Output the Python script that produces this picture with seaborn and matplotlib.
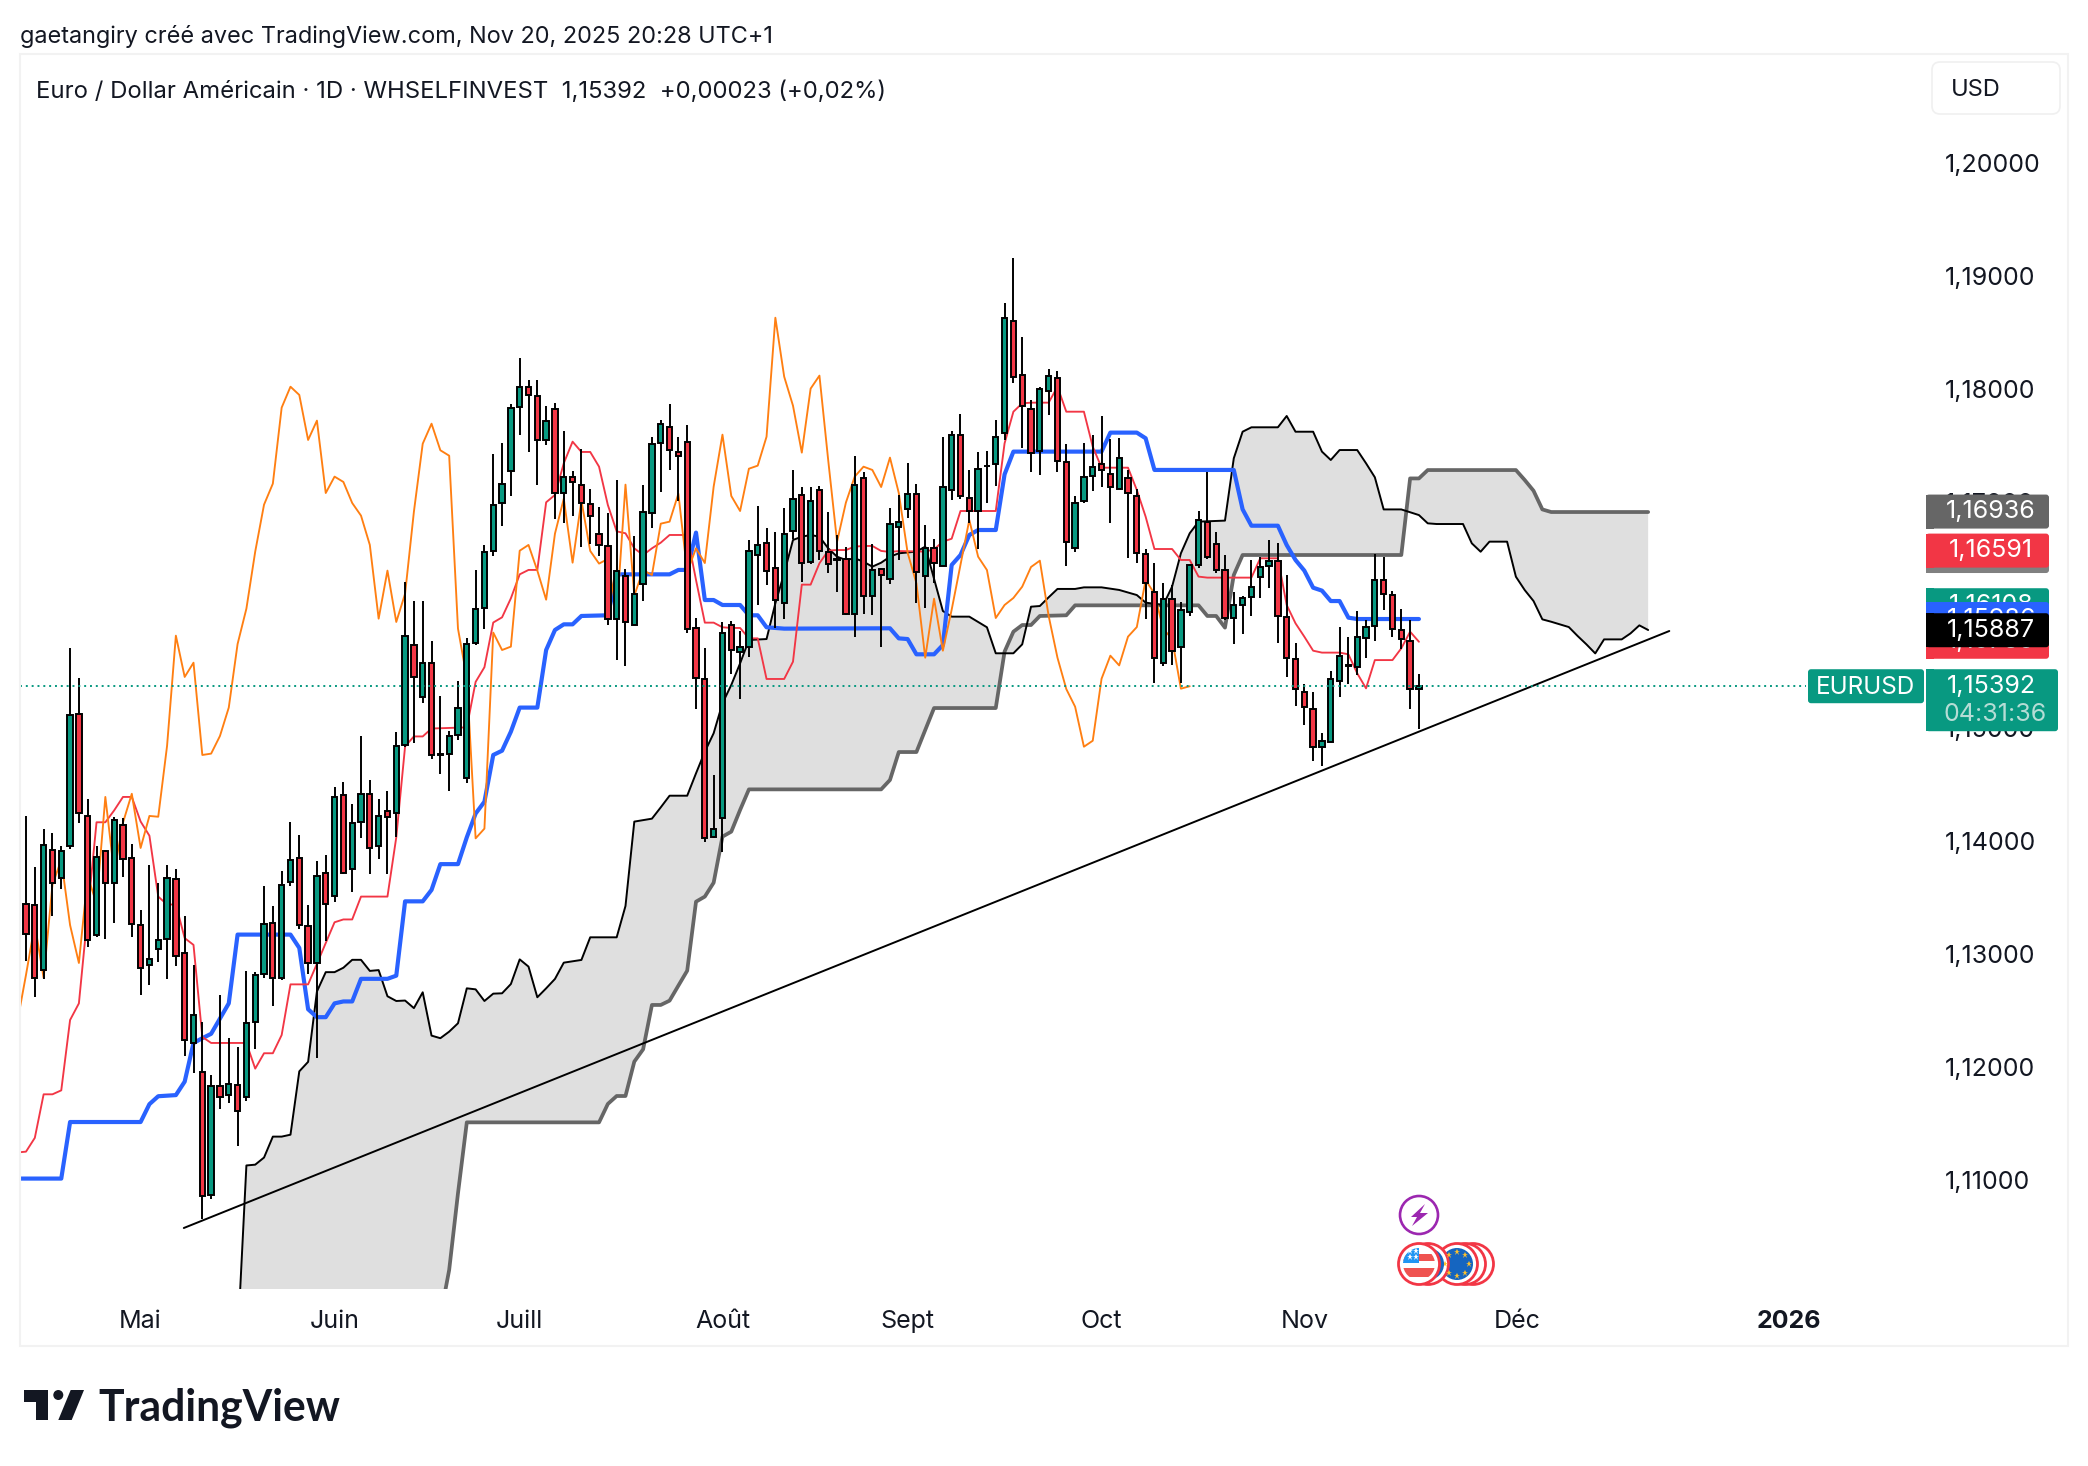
import numpy as np
import matplotlib
matplotlib.use("Agg")
import matplotlib.pyplot as plt
import matplotlib.transforms as mtrans
import seaborn as sns
from matplotlib.patches import Circle, FancyBboxPatch, Polygon, Rectangle

# Daily bars
opens = [
    1.13469, 1.13459, 1.12882, 1.13945, 1.13696, 1.13976, 1.15147, 1.14245, 1.13189, 1.13938,
    1.13651, 1.14165, 1.13875, 1.13284, 1.12927, 1.13067, 1.13158, 1.13689, 1.13036, 1.12238,
    1.11983, 1.10893, 1.11857, 1.11781, 1.11868, 1.11763, 1.12424, 1.12850, 1.13298, 1.12808,
    1.13661, 1.13875, 1.13270, 1.12945, 1.13742, 1.13539, 1.14427, 1.13773, 1.14193, 1.14441,
    1.13979, 1.14291, 1.14273, 1.14869, 1.15759, 1.15297, 1.15597, 1.14784, 1.14793, 1.14961,
    1.14581, 1.15777, 1.16084, 1.16588, 1.17012, 1.17295, 1.17861, 1.18040, 1.17961, 1.17566,
    1.17846, 1.17100, 1.17245, 1.17174, 1.17006, 1.16741, 1.16635, 1.15989, 1.16369, 1.15933,
    1.16296, 1.16926, 1.17545, 1.17687, 1.17463, 1.17554, 1.15907, 1.15456, 1.14062, 1.14230,
    1.15930, 1.15698, 1.15742, 1.16549, 1.16661, 1.16437, 1.16131, 1.16767, 1.17086, 1.16493,
    1.17127, 1.16579, 1.16508, 1.16517, 1.16031, 1.17236, 1.16193, 1.16428, 1.16340, 1.16800,
    1.16959, 1.17094, 1.16366, 1.16614, 1.16458, 1.17127, 1.17616, 1.17059, 1.16941, 1.17336,
    1.17360, 1.17631, 1.18624, 1.18143, 1.17846, 1.17472, 1.18002, 1.18117, 1.17377, 1.16617,
    1.17030, 1.17251, 1.17357, 1.17271, 1.17139, 1.17233, 1.17077, 1.16564, 1.16228, 1.15594,
    1.16166, 1.15742, 1.16051, 1.16467, 1.16844, 1.16649, 1.16419, 1.15998, 1.16113, 1.16184,
    1.16361, 1.16458, 1.16502, 1.16007, 1.15636, 1.15341, 1.15194, 1.14857, 1.14901, 1.15438,
    1.15570, 1.15559, 1.15821, 1.15924, 1.16331, 1.16198, 1.15889, 1.15794, 1.15369,
]
highs = [
    1.14242, 1.13791, 1.14126, 1.14091, 1.13976, 1.15727, 1.15469, 1.14399, 1.13976, 1.13941,
    1.14238, 1.14224, 1.13993, 1.13410, 1.13808, 1.13651, 1.13808, 1.13780, 1.13364, 1.12931,
    1.12427, 1.11952, 1.12658, 1.12280, 1.12204, 1.12878, 1.12861, 1.13630, 1.13445, 1.13756,
    1.14189, 1.14074, 1.13455, 1.13847, 1.13896, 1.14497, 1.14542, 1.14347, 1.14948, 1.14567,
    1.14392, 1.14469, 1.14990, 1.16311, 1.16143, 1.16143, 1.15795, 1.15303, 1.14999, 1.15435,
    1.15815, 1.16417, 1.16644, 1.17442, 1.17539, 1.17884, 1.18291, 1.18099, 1.18099, 1.17867,
    1.17893, 1.17646, 1.17292, 1.17486, 1.17133, 1.16974, 1.16921, 1.17212, 1.16425, 1.16717,
    1.17168, 1.17598, 1.17743, 1.17884, 1.17598, 1.17699, 1.15992, 1.15727, 1.14607, 1.15963,
    1.15966, 1.15880, 1.16682, 1.16982, 1.16788, 1.16753, 1.16968, 1.17301, 1.17150, 1.17150,
    1.17159, 1.16929, 1.16729, 1.16620, 1.17425, 1.17283, 1.16646, 1.16440, 1.16965, 1.17080,
    1.17363, 1.17177, 1.16814, 1.16694, 1.17592, 1.17645, 1.17796, 1.17301, 1.17463, 1.17472,
    1.17743, 1.18777, 1.19175, 1.18476, 1.17919, 1.18037, 1.18194, 1.18182, 1.17530, 1.17071,
    1.17539, 1.17610, 1.17778, 1.17578, 1.17584, 1.17304, 1.17139, 1.16608, 1.16481, 1.16302,
    1.16290, 1.16140, 1.16470, 1.16938, 1.17289, 1.16753, 1.16552, 1.16222, 1.16190, 1.16508,
    1.16537, 1.16685, 1.16655, 1.16372, 1.15771, 1.15409, 1.15338, 1.14975, 1.15523, 1.15912,
    1.15824, 1.16054, 1.15974, 1.16560, 1.16531, 1.16236, 1.16071, 1.15977, 1.15500,
]
lows = [
    1.12966, 1.12648, 1.12805, 1.13364, 1.13602, 1.13952, 1.14186, 1.13084, 1.13172, 1.13158,
    1.13298, 1.13707, 1.13175, 1.12665, 1.12752, 1.12955, 1.12805, 1.12920, 1.12127, 1.11976,
    1.10683, 1.10858, 1.11658, 1.11707, 1.11323, 1.11728, 1.12186, 1.12815, 1.12567, 1.12798,
    1.13630, 1.13242, 1.12850, 1.12109, 1.13137, 1.13480, 1.13735, 1.13577, 1.14049, 1.13728,
    1.13868, 1.13735, 1.14063, 1.14858, 1.14893, 1.15247, 1.14752, 1.14619, 1.14469, 1.14920,
    1.14539, 1.15754, 1.15901, 1.16546, 1.16809, 1.17077, 1.17616, 1.17466, 1.17174, 1.17528,
    1.16873, 1.16832, 1.16900, 1.16626, 1.16649, 1.16546, 1.15936, 1.15627, 1.15574, 1.15933,
    1.16148, 1.16794, 1.17112, 1.17307, 1.17033, 1.15860, 1.15194, 1.14018, 1.14047, 1.13923,
    1.15503, 1.15282, 1.15647, 1.16110, 1.16287, 1.15904, 1.15989, 1.16694, 1.16316, 1.16473,
    1.16508, 1.16396, 1.16228, 1.16019, 1.15830, 1.16031, 1.16022, 1.15742, 1.16293, 1.16508,
    1.16876, 1.16131, 1.16087, 1.16307, 1.16458, 1.17038, 1.17044, 1.16832, 1.16605, 1.17015,
    1.17162, 1.17569, 1.18076, 1.17501, 1.17289, 1.17259, 1.17793, 1.17283, 1.16458, 1.16582,
    1.17015, 1.17121, 1.17156, 1.16832, 1.17133, 1.16523, 1.16478, 1.15989, 1.15423, 1.15574,
    1.15583, 1.15423, 1.16016, 1.16434, 1.16514, 1.16390, 1.15977, 1.15768, 1.15857, 1.16016,
    1.16175, 1.16263, 1.15777, 1.15476, 1.15217, 1.15052, 1.14733, 1.14689, 1.14901, 1.15299,
    1.15411, 1.15491, 1.15638, 1.15794, 1.16065, 1.15824, 1.15718, 1.15187, 1.15010,
]
closes = [
    1.13200, 1.12808, 1.13986, 1.13654, 1.13938, 1.15140, 1.14273, 1.13147, 1.13882, 1.13651,
    1.14210, 1.13864, 1.13287, 1.12903, 1.12983, 1.13151, 1.13696, 1.13008, 1.12266, 1.12487,
    1.10882, 1.11857, 1.11763, 1.11875, 1.11637, 1.12417, 1.12840, 1.13287, 1.12812, 1.13637,
    1.13857, 1.13280, 1.12945, 1.13714, 1.13469, 1.14413, 1.13742, 1.14186, 1.14441, 1.13962,
    1.14245, 1.14238, 1.14864, 1.15839, 1.15474, 1.15600, 1.14784, 1.14796, 1.14952, 1.15203,
    1.15765, 1.16078, 1.16582, 1.16997, 1.17183, 1.17855, 1.18040, 1.17967, 1.17569, 1.17740,
    1.17100, 1.17245, 1.17198, 1.17012, 1.16900, 1.16641, 1.15989, 1.16414, 1.15960, 1.16210,
    1.16935, 1.17536, 1.17713, 1.17478, 1.17430, 1.15901, 1.15465, 1.14047, 1.14133, 1.15866,
    1.15712, 1.15742, 1.16590, 1.16641, 1.16414, 1.16157, 1.16741, 1.17050, 1.16484, 1.17033,
    1.16588, 1.16476, 1.16517, 1.16031, 1.17174, 1.16193, 1.16419, 1.16375, 1.16829, 1.16847,
    1.17094, 1.16402, 1.16611, 1.16481, 1.17156, 1.17616, 1.17074, 1.16941, 1.17315, 1.17342,
    1.17598, 1.18650, 1.18129, 1.17872, 1.17457, 1.18023, 1.18138, 1.17386, 1.16670, 1.17015,
    1.17245, 1.17333, 1.17304, 1.17153, 1.17413, 1.17100, 1.16573, 1.16302, 1.15644, 1.16166,
    1.15706, 1.16069, 1.16464, 1.16862, 1.16537, 1.16419, 1.15995, 1.16110, 1.16172, 1.16272,
    1.16446, 1.16502, 1.16013, 1.15644, 1.15367, 1.15211, 1.14857, 1.14910, 1.15458, 1.15662,
    1.15576, 1.15830, 1.15915, 1.16331, 1.16210, 1.15897, 1.15812, 1.15370, 1.15392,
]

# Ichimoku lines: bar number and price at each bend
tenkan_bars = [-1, 0, 1, 2, 3, 4, 5, 6, 8, 9, 10, 11, 12, 13, 14, 15, 16, 17, 18, 19, 20, 21, 25, 26, 27, 28, 29, 30,
               32, 33, 35, 36, 37, 38, 41, 42, 43, 44, 45, 46, 50, 51, 52, 53, 54, 55, 56, 57, 58, 59, 60, 61, 62,
               63, 64, 65, 66, 67, 68, 69, 70, 71, 72, 73, 75, 76, 77, 78, 79, 80, 81, 82, 83, 84, 86, 87, 88, 89,
               90, 91, 92, 93, 94, 95, 96, 97, 98, 99, 102, 103, 104, 105, 106, 110, 111, 112, 113, 114, 116, 117,
               118, 120, 121, 122, 125, 126, 127, 128, 130, 131, 132, 133, 134, 139, 140, 142, 143, 144, 145, 146,
               147, 149, 150, 151, 152, 153, 155, 156, 157, 158]
tenkan_vals = [1.11270, 1.11277, 1.11399, 1.11784, 1.11784, 1.11819, 1.12441, 1.12588, 1.14189, 1.14189, 1.14294,
               1.14413, 1.14413, 1.14196, 1.14070, 1.13532, 1.13462, 1.13462, 1.13165, 1.13105, 1.12291, 1.12238,
               1.12238, 1.12011, 1.12147, 1.12147, 1.12308, 1.12756, 1.12756, 1.12938, 1.13305, 1.13330, 1.13330,
               1.13532, 1.13532, 1.14056, 1.14860, 1.14948, 1.14948, 1.15018, 1.15028, 1.15430, 1.15560, 1.15955,
               1.16001, 1.16169, 1.16381, 1.16420, 1.16420, 1.17018, 1.17083, 1.17363, 1.17554, 1.17463, 1.17463,
               1.17333, 1.16994, 1.16761, 1.16744, 1.16611, 1.16552, 1.16611, 1.16661, 1.16729, 1.16729, 1.16331,
               1.15954, 1.15954, 1.15913, 1.15907, 1.15907, 1.15815, 1.15815, 1.15456, 1.15456, 1.15609, 1.16290,
               1.16290, 1.16479, 1.16591, 1.16596, 1.16596, 1.16626, 1.16632, 1.16632, 1.16588, 1.16579, 1.16587,
               1.16582, 1.16602, 1.16670, 1.16696, 1.16941, 1.16941, 1.17539, 1.17819, 1.17893, 1.17899, 1.17899,
               1.18040, 1.17819, 1.17819, 1.17510, 1.17324, 1.17324, 1.17127, 1.16891, 1.16605, 1.16605, 1.16508,
               1.16508, 1.16361, 1.16352, 1.16352, 1.16523, 1.16523, 1.16110, 1.15948, 1.15830, 1.15706, 1.15689,
               1.15689, 1.15674, 1.15506, 1.15373, 1.15623, 1.15623, 1.15727, 1.15874, 1.15785]

kijun_bars = [-1, 4, 5, 13, 14, 15, 17, 18, 19, 20, 21, 23, 24, 30, 31, 32, 33, 34, 35, 36, 37, 38, 41, 42, 43, 45, 46,
              47, 49, 50, 51, 52, 53, 54, 55, 56, 58, 59, 60, 61, 62, 63, 66, 67, 73, 74, 75, 76, 77, 78, 79, 81, 82,
              83, 84, 86, 98, 99, 100, 101, 103, 104, 105, 106, 107, 108, 110, 111, 112, 122, 123, 126, 127, 128, 137,
              138, 139, 142, 143, 144, 145, 146, 147, 148, 149, 150, 151, 158]
kijun_vals = [1.11039, 1.11039, 1.11539, 1.11539, 1.11697, 1.11767, 1.11777, 1.11896, 1.12238, 1.12280, 1.12319,
              1.12588, 1.13196, 1.13196, 1.13078, 1.12536, 1.12466, 1.12466, 1.12588, 1.12605, 1.12605, 1.12805,
              1.12805, 1.12833, 1.13490, 1.13490, 1.13591, 1.13819, 1.13819, 1.14056, 1.14266, 1.14371, 1.14784,
              1.14822, 1.14990, 1.15203, 1.15203, 1.15712, 1.15889, 1.15939, 1.15939, 1.16013, 1.16019, 1.16381,
              1.16381, 1.16420, 1.16420, 1.16750, 1.16154, 1.16154, 1.16110, 1.16110, 1.16019, 1.16019, 1.15913,
              1.15901, 1.15904, 1.15815, 1.15809, 1.15674, 1.15674, 1.15756, 1.16464, 1.16552, 1.16729, 1.16773,
              1.16773, 1.17265, 1.17466, 1.17466, 1.17634, 1.17634, 1.17584, 1.17304, 1.17304, 1.16956, 1.16811,
              1.16811, 1.16640, 1.16508, 1.16414, 1.16263, 1.16237, 1.16145, 1.16145, 1.15998, 1.15986, 1.15986]

span_a_bars = [24, 25, 26, 27, 28, 29, 30, 31, 32, 33, 34, 35, 36, 37, 38, 39, 40, 41, 42, 43, 44, 45, 46, 47, 48, 49,
               50, 51, 52, 53, 54, 55, 56, 57, 58, 59, 60, 61, 63, 64, 67, 68, 69, 71, 72, 73, 75, 76, 77, 78, 79, 80,
               81, 82, 84, 85, 86, 87, 88, 89, 90, 91, 92, 93, 94, 95, 96, 97, 98, 99, 101, 102, 104, 105, 107, 109,
               110, 112, 113, 114, 115, 116, 117, 119, 120, 122, 124, 126, 127, 129, 130, 131, 132, 133, 136, 137, 138,
               139, 142, 143, 144, 146, 147, 148, 149, 151, 152, 153, 154, 156, 158, 159, 160, 163, 164, 165, 166, 168,
               169, 170, 171, 172, 173, 175, 176, 177, 178, 179, 181, 182, 183, 184]
span_a_vals = [1.09600, 1.11155, 1.11162, 1.11225, 1.11410, 1.11410, 1.11427, 1.11987, 1.12071, 1.12693, 1.12864,
               1.12864, 1.12903, 1.12973, 1.12973, 1.12875, 1.12882, 1.12651, 1.12609, 1.12613, 1.12546, 1.12686,
               1.12303, 1.12280, 1.12338, 1.12412, 1.12721, 1.12712, 1.12609, 1.12674, 1.12677, 1.12759, 1.12977,
               1.12913, 1.12642, 1.12721, 1.12804, 1.12948, 1.12972, 1.13172, 1.13172, 1.13449, 1.14195, 1.14221,
               1.14321, 1.14424, 1.14424, 1.14622, 1.14813, 1.14976, 1.15241, 1.15403, 1.15594, 1.15801, 1.15809,
               1.16125, 1.16390, 1.16685, 1.16714, 1.16729, 1.16714, 1.16611, 1.16537, 1.16508, 1.16523, 1.16493,
               1.16449, 1.16484, 1.16537, 1.16567, 1.16582, 1.16626, 1.16057, 1.16007, 1.16007, 1.15913, 1.15683,
               1.15683, 1.15762, 1.16095, 1.16101, 1.16178, 1.16252, 1.16252, 1.16266, 1.16266, 1.16243, 1.16198,
               1.16131, 1.16110, 1.16272, 1.16567, 1.16744, 1.16847, 1.16856, 1.17407, 1.17642, 1.17681, 1.17681,
               1.17781, 1.17642, 1.17642, 1.17466, 1.17392, 1.17480, 1.17480, 1.17363, 1.17239, 1.16955, 1.16955,
               1.16905, 1.16832, 1.16826, 1.16826, 1.16655, 1.16581, 1.16670, 1.16670, 1.16360, 1.16242, 1.16145,
               1.15983, 1.15962, 1.15915, 1.15836, 1.15762, 1.15682, 1.15806, 1.15806, 1.15859, 1.15930, 1.15889]

span_b_bars = [24, 46, 47, 48, 49, 50, 65, 66, 67, 68, 69, 70, 71, 72, 73, 74, 75, 76, 77, 78, 79, 80, 81, 82, 97, 98,
               99, 101, 102, 103, 110, 111, 112, 113, 114, 115, 118, 119, 133, 134, 135, 136, 137, 138, 156, 157, 158,
               159, 169, 170, 171, 172, 173, 184]
span_b_vals = [1.09000, 1.09000, 1.09818, 1.10231, 1.10909, 1.11536, 1.11536, 1.11699, 1.11769, 1.11769, 1.12073,
               1.12182, 1.12574, 1.12574, 1.12612, 1.12745, 1.12877, 1.13487, 1.13532, 1.13655, 1.14062, 1.14106,
               1.14298, 1.14480, 1.14480, 1.14563, 1.14810, 1.14810, 1.15005, 1.15199, 1.15199, 1.15698, 1.15874,
               1.15933, 1.15933, 1.16013, 1.16019, 1.16107, 1.16107, 1.16013, 1.16013, 1.15910, 1.16375, 1.16552,
               1.16552, 1.17229, 1.17229, 1.17303, 1.17303, 1.17215, 1.17120, 1.16955, 1.16932, 1.16932]

trend_bars = [17.9, 186.4]
trend_vals = [1.10602, 1.15880]

# Axis labels
price_ticks = [1.11, 1.12, 1.13, 1.14, 1.15, 1.16, 1.17, 1.18, 1.19, 1.20]
price_labels = ["1,11000", "1,12000", "1,13000", "1,14000", "1,15000", "1,16000", "1,17000", "1,18000", "1,19000", "1,20000"]
month_bars = [13, 35, 56, 79, 100, 122, 145, 169.2, 200]
month_labels = ["Mai", "Juin", "Juill", "Août", "Sept", "Oct", "Nov", "Déc", "2026"]

last_price = 1.15392
# price boxes on the right scale, back to front
scale_boxes = [
    (1.16936, "1,16936", "#666666"),
    (1.16543, "", "#808080"),
    (1.16591, "1,16591", "#F23645"),
    (1.15785, "1,15785", "#F23645"),
    (1.16108, "1,16108", "#089981"),
    (1.15986, "1,15986", "#2962FF"),
    (1.15887, "1,15887", "#000000"),
]

GREEN = "#089981"
RED = "#F23645"
INK = "#131722"
W, H = 2088, 1466
AX_L, AX_R, AX_T, AX_B = 20, 1926, 55, 1289
PITCH = 8.816

sns.set_theme(style="white")
plt.rcParams['font.family'] = ['Inter', 'DejaVu Sans']

fig = plt.figure(figsize=(W / 100, H / 100), dpi=100, facecolor="white")
ax = fig.add_axes([AX_L / W, 1 - AX_B / H, (AX_R - AX_L) / W, (AX_B - AX_T) / H])
ax.set_xlim((AX_L - 26) / PITCH, (AX_R - 26) / PITCH)
ax.set_ylim(1.2 - (AX_B - 165) / 11311, 1.2 + (165 - AX_T) / 11311)


def price_y(p):
    return 165 + (1.2 - p) * 11311


# ------ Cloud ------
ax.fill(span_a_bars + span_b_bars[::-1], span_a_vals + span_b_vals[::-1],
        color="#DFDFDF", lw=0, zorder=1)
sns.lineplot(x=span_b_bars, y=span_b_vals, ax=ax, color="#666666", lw=2.7,
             estimator=None, sort=False, zorder=2)
sns.lineplot(x=span_a_bars, y=span_a_vals, ax=ax, color="black", lw=1.4,
             estimator=None, sort=False, zorder=2)

# ------ Other lines ------
sns.lineplot(x=kijun_bars, y=kijun_vals, ax=ax, color="#2962FF", lw=3.0,
             estimator=None, sort=False, zorder=3)
sns.lineplot(x=tenkan_bars, y=tenkan_vals, ax=ax, color=RED, lw=1.35,
             estimator=None, sort=False, zorder=3)
bars = np.arange(len(closes))
sns.lineplot(x=bars - 26, y=closes, ax=ax, color="#FF7F12", lw=1.35,
             estimator=None, sort=False, zorder=3)

# ------ Candles ------
o, c = np.array(opens), np.array(closes)
ax.vlines(bars, lows, highs, colors="black", lw=1.4, zorder=5)
ax.bar(bars, np.abs(c - o), bottom=np.minimum(o, c), width=0.6,
       color=np.where(c >= o, GREEN, RED), edgecolor="black", linewidth=1.4, zorder=6)

ax.plot(trend_bars, trend_vals, color="black", lw=1.4, zorder=7)
ax.plot([ax.get_xlim()[0], (1806 - 26) / PITCH], [last_price, last_price], color=GREEN,
        lw=1.4, ls=(0, (1, 2)), zorder=7)

# ------ Axes ------
for side in ax.spines.values():
    side.set_visible(False)
ax.yaxis.tick_right()
ax.set_yticks(price_ticks, price_labels)
ax.set_xticks(month_bars, month_labels)
ax.tick_params(axis="y", length=0, pad=13.5, labelsize=18, labelcolor=INK)
ax.tick_params(axis="x", length=0, pad=15, labelsize=18, labelcolor=INK)
ax.get_xticklabels()[-1].set_fontweight("bold")
nudge = mtrans.ScaledTranslation(0, 2.5 / 100, fig.dpi_scale_trans)
for lab in ax.get_yticklabels():
    lab.set_transform(lab.get_transform() + nudge)

# ------ Everything on top, in pixel units ------
ov = fig.add_axes([0, 0, 1, 1], zorder=10)
ov.set_xlim(0, W)
ov.set_ylim(H, 0)
ov.axis("off")
ov.add_patch(Rectangle((20, 54), 2048, 1292, fill=False, ec="#F2F2F2", lw=1.5))

ov.text(20, 37, "gaetangiry créé avec TradingView.com, Nov 20, 2025 20:28 UTC+1",
        fontsize=16.9, color=INK, va="center")
ov.text(36, 92, "Euro / Dollar Américain · 1D · WHSELFINVEST  1,15392  +0,00023 (+0,02%)",
        fontsize=17.2, color=INK, va="center")

ov.add_patch(FancyBboxPatch((1932, 62), 128, 52, boxstyle="round,pad=0,rounding_size=8",
                            fc="white", ec="#F0F0F0", lw=1.2))
ov.text(1951, 90, "USD", fontsize=17, color=INK, va="center")

layer = 20


def price_box(y0, y1, x1, color):
    global layer
    layer += 1
    ov.add_patch(FancyBboxPatch((1926, y0), x1 - 1926, y1 - y0, boxstyle="round,pad=0,rounding_size=3",
                                fc=color, ec="none", zorder=layer))
    ov.add_patch(Rectangle((1926, y0), 8, y1 - y0, fc=color, ec="none", zorder=layer))


for p, txt, col in scale_boxes:
    y = price_y(p)
    price_box(y - 17, y + 17, 2049, col)
    if txt:
        ov.text(1991, y, txt, fontsize=18, color="white", ha="center", va="center", zorder=layer)

y = price_y(last_price)
price_box(y - 17, y + 45, 2058, GREEN)
ov.text(1991, y, "1,15392", fontsize=18, color="white", ha="center", va="center", zorder=layer)
ov.text(1995, y + 28, "04:31:36", fontsize=18, color="#B5DDD5", ha="center", va="center", zorder=layer)
ov.add_patch(FancyBboxPatch((1808, y - 17), 116, 34, boxstyle="round,pad=0,rounding_size=3",
                            fc=GREEN, ec="none"))
ov.text(1866, y + 1, "EURUSD", fontsize=17.5, color="white", ha="center", va="center")

# event markers
ov.add_patch(Circle((1419, 1215), 19, fc="white", ec="#9C27B0", lw=1.9))
ov.add_patch(Polygon([(1425, 1204), (1411, 1217), (1417, 1217), (1412, 1226), (1428, 1213), (1420, 1213)],
                     fc="#9C27B0", ec="none"))


def ring(x):
    ov.add_patch(Circle((x, 1264), 20.5, fc="white", ec=RED, lw=2))


ring(1473)
ring(1465)
ring(1457)
eu = Circle((1457, 1264), 16, fc="#1565C0", ec="none")
ov.add_patch(eu)
for dx, dy in [(0, -12), (8, -9), (12, 0), (8, 9), (0, 12), (-8, 9), (-12, 0), (-8, -9)]:
    ov.plot(1457 + dx, 1264 + dy, marker="*", ms=5, color="#FBC02D", mew=0, zorder=2)
ring(1428)
ov.add_patch(Circle((1428, 1264), 16, fc="#1565C0", ec="none", zorder=2.1))
us_ring = Circle((1419, 1264), 20.5, fc="white", ec=RED, lw=2, zorder=2.2)
ov.add_patch(us_ring)
us = Circle((1419, 1264), 16, fc="white", ec="none", zorder=2.3)
ov.add_patch(us)
for sy, sh in [(1254, 7), (1268, 9)]:
    stripe = Rectangle((1400, sy), 40, sh, fc="#EF5350", ec="none", zorder=2.4)
    ov.add_patch(stripe)
    stripe.set_clip_path(us)
canton = Rectangle((1400, 1246), 19, 17, fc="#2196F3", ec="none", zorder=2.5)
ov.add_patch(canton)
canton.set_clip_path(us)
for sx in [1410, 1416]:
    for sy in [1251, 1257]:
        ov.plot(sx, sy, marker="*", ms=5, color="white", mew=0, zorder=2.6)

# logo
ov.add_patch(Polygon([(24, 1390), (48.3, 1390), (48.3, 1420), (36, 1420), (36, 1401.7), (24, 1401.7)],
                     fc=INK, ec="none"))
ov.add_patch(Circle((58.3, 1395), 5, fc=INK, ec="none"))
ov.add_patch(Polygon([(84, 1390), (71.7, 1420), (58.3, 1420), (70.7, 1390)], fc=INK, ec="none"))
ov.text(98, 1420, "TradingView", fontsize=30.7, family=["Lato", "DejaVu Sans"], fontweight="bold",
        color=INK, va="baseline")

fig.savefig("out.png", dpi=100, facecolor="white")
